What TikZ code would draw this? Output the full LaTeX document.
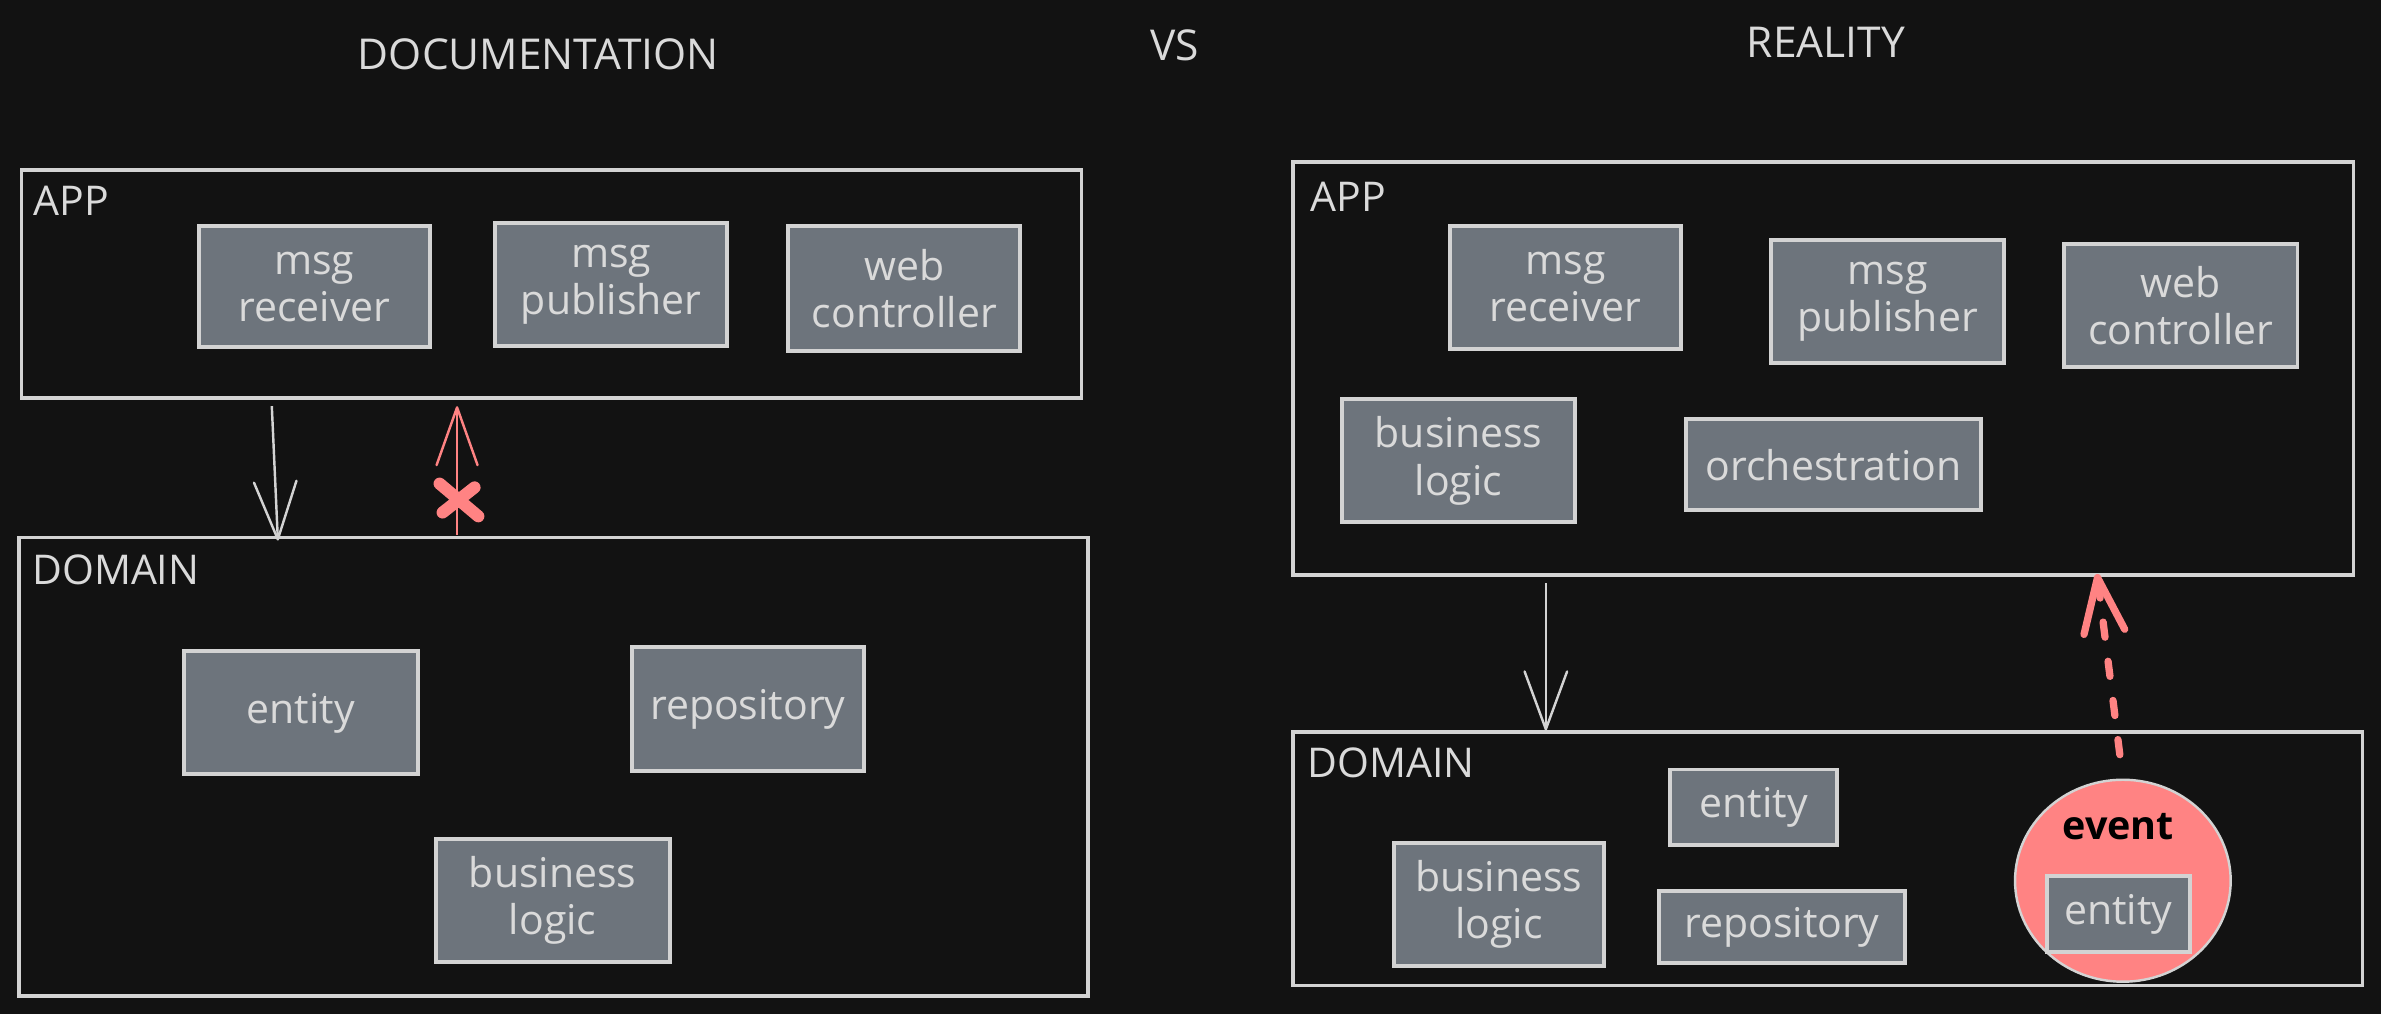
\documentclass[tikz,border=0pt]{standalone}
\usepackage{fontspec}
\setmainfont{Open Sans}
\usetikzlibrary{arrows.meta,shapes.geometric}
\definecolor{bg}{HTML}{121212}
\definecolor{stk}{HTML}{D3D3D3}
\definecolor{boxfill}{HTML}{6D747C}
\definecolor{txt}{HTML}{DADADA}
\definecolor{redc}{HTML}{FF8383}
\begin{document}
\begin{tikzpicture}[x=1pt,y=-1pt,
  frame/.style={draw=stk, line width=2.2pt, inner sep=0pt},
  comp/.style={draw=stk, fill=boxfill, line width=2.6pt, inner sep=0pt,
    text=txt, align=center, font=\fontsize{27}{31}\selectfont},
  lbl/.style={text=txt, inner sep=0pt, font=\fontsize{27}{31}\selectfont},
  ttl/.style={text=txt, inner sep=0pt, font=\fontsize{28}{32}\selectfont},
  garrow/.style={draw=stk, line width=1.6pt, -{Straight Barb[length=38pt,width=28pt,round]}},
  rarrow/.style={draw=redc, line width=1.6pt, -{Straight Barb[length=38pt,width=27pt,round]}},
  rdash/.style={draw=redc, line width=4.8pt, line cap=round, dash pattern=on 10pt off 16pt,
    -{Straight Barb[length=36pt,width=27pt,round]}},
]
\fill[bg] (0,0) rectangle (1568,668);
\useasboundingbox (0,0) rectangle (1568,668);

% titles
\node[ttl, anchor=base] (tDoc) at (354.6,46) {DOCUMENTATION};
\node[ttl, anchor=base] (tVs) at (773.5,40) {VS};
\node[ttl, anchor=base] (tReal) at (1202.5,38) {REALITY};

% ---------- left: documentation ----------
\node[frame, minimum width=698pt, minimum height=150pt] (appL) at (363,187) {};
\node[lbl, anchor=base west] (appLlbl) at (22,141.6) {APP};
\node[comp, minimum width=152pt, minimum height=80pt] (recvL) at (207,188.8) {msg\\receiver};
\node[comp, minimum width=153pt, minimum height=81pt] (pubL) at (402.5,187.5) {msg\\publisher};
\node[comp, minimum width=153pt, minimum height=82pt] (webL) at (595.5,190) {web\\controller};

\node[frame, minimum width=704pt, minimum height=302pt] (domL) at (364.6,505) {};
\node[lbl, anchor=base west] (domLlbl) at (21,385) {DOMAIN};
\node[comp, minimum width=154pt, minimum height=81pt] (entL) at (198,469.5) {entity};
\node[comp, minimum width=153pt, minimum height=82pt] (repoL) at (492.5,467) {repository};
\node[comp, minimum width=154pt, minimum height=81pt] (blL) at (364,593) {business\\logic};

\coordinate (gL1) at (179,267.5);
\coordinate (gL2) at (183,356);
\draw[garrow] (gL1) -- (gL2);

\draw[redc, line width=8pt, line cap=round] (289.5,318.5) -- (315,340);
\draw[redc, line width=8pt, line cap=round] (312.5,321) -- (291.5,337.5);
\coordinate (rL1) at (301,352);
\coordinate (rL2) at (301,267.5);
\draw[rarrow] (rL1) -- (rL2);

% ---------- right: reality ----------
\node[frame, minimum width=698.5pt, minimum height=272pt] (appR) at (1200.75,242.7) {};
\node[lbl, anchor=base west] (appRlbl) at (863,139.5) {APP};
\node[comp, minimum width=152pt, minimum height=81pt] (recvR) at (1031,189.2) {msg\\receiver};
\node[comp, minimum width=154pt, minimum height=81pt] (pubR) at (1243,198.5) {msg\\publisher};
\node[comp, minimum width=154pt, minimum height=81pt] (webR) at (1436,201) {web\\controller};
\node[comp, minimum width=153pt, minimum height=81pt] (blR1) at (960.5,303.5) {business\\logic};
\node[comp, minimum width=194pt, minimum height=60pt] (orch) at (1207.5,306) {orchestration};

\node[frame, minimum width=704.5pt, minimum height=167pt] (domR) at (1203.75,565.5) {};
\node[lbl, anchor=base west] (domRlbl) at (861,512) {DOMAIN};
\node[comp, minimum width=110pt, minimum height=50pt] (entR) at (1155,531.75) {entity};
\node[comp, minimum width=138pt, minimum height=81pt] (blR2) at (987,595.5) {business\\logic};
\node[comp, minimum width=162pt, minimum height=47pt] (repoR) at (1173.5,610.5) {repository};

\node[ellipse, draw=stk, fill=redc, line width=1.6pt, inner sep=0pt,
  minimum width=142pt, minimum height=133pt] (ev) at (1398,580) {};
\node[anchor=base, inner sep=0pt, text=black, font=\fontsize{26}{30}\selectfont\bfseries] (evTxt) at (1395,553) {event};
\node[comp, minimum width=94pt, minimum height=50pt] (entE) at (1395,602) {entity};

\coordinate (gR1) at (1018,384);
\coordinate (gR2) at (1018,481);
\draw[garrow] (gR1) -- (gR2);

\coordinate (rR1) at (1396,497);
\coordinate (rR2) at (1381,378);
\draw[rdash] (rR1) -- (rR2);
\end{tikzpicture}
\end{document}
